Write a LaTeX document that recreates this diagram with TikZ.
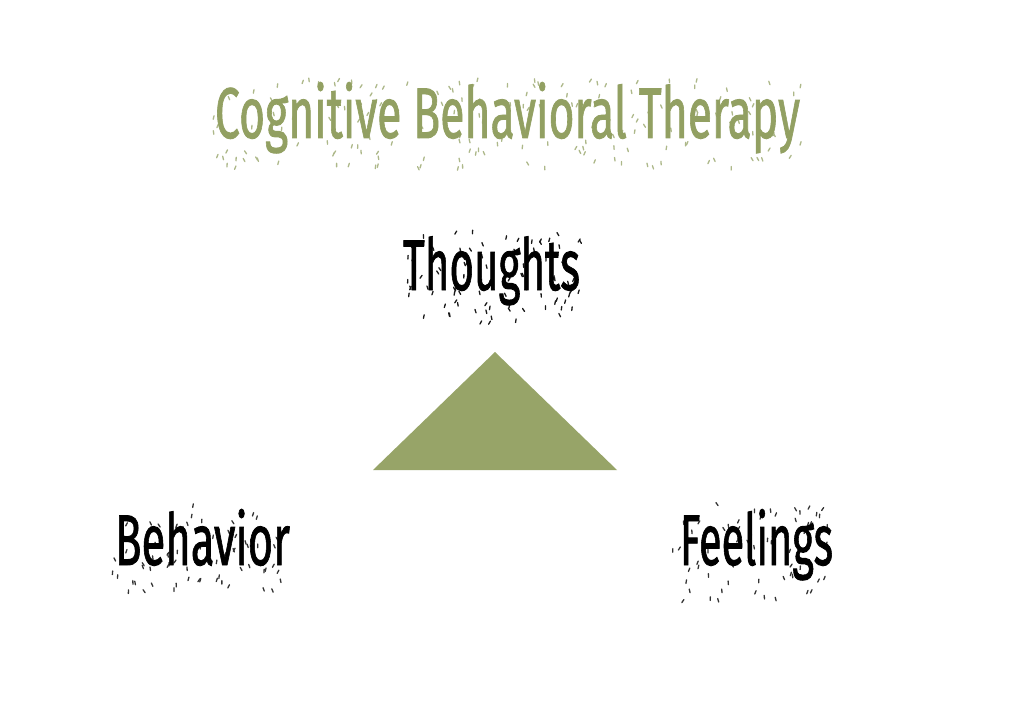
\documentclass[tikz,border=0pt]{standalone}
\usepackage{fontspec}
\setmainfont{Fira Sans}
\newfontfamily\handfont[FakeBold=1.3]{Fira Sans}
\definecolor{cbtgreen}{RGB}{151,164,104}
\definecolor{titlegreen}{RGB}{146,160,98}
\newcommand\cbtspeck[6]{% x0 x1 y0 y1 count colour
  \foreach \i in {1,...,#5}{%
    \pgfmathsetmacro\px{#1+(#2-#1)*rnd}%
    \pgfmathsetmacro\py{#3+(#4-#3)*rnd}%
    \pgfmathsetmacro\pa{55+70*rnd}%
    \draw[speck,#6] (\px,\py) -- ++(\pa:3.6);
  }}
\begin{document}
\begin{tikzpicture}[x=1bp,y=-1bp,
  lbl/.style={anchor=base, inner sep=0pt, font=\handfont\fontsize{72}{72}\selectfont},
  speck/.style={line width=1.3bp, line cap=round}]
\useasboundingbox (0,0) rectangle (1024,715);
\fill[white] (0,0) rectangle (1024,715);
\pgfmathsetseed{23}
% speckle textures
\cbtspeck{212}{805}{78}{168}{190}{titlegreen!75}
\cbtspeck{398}{588}{230}{322}{95}{black!90}
\cbtspeck{110}{292}{502}{590}{75}{black!80}
\cbtspeck{672}{838}{502}{600}{70}{black!80}
% titles and labels
\node[lbl, text=titlegreen] (title) at (507.5,138) {\resizebox{585bp}{\height}{Cognitive Behavioral Therapy}};
\node[lbl] (thoughts) at (491.5,290) {\resizebox{177bp}{\height}{Thoughts}};
\node[lbl] (behavior) at (202.5,565) {\resizebox{175bp}{\height}{Behavior}};
\node[lbl] (feelings) at (756.5,565) {\resizebox{153bp}{\height}{Feelings}};
% triangle
\coordinate (apex) at (495,352);
\coordinate (bl) at (373,470);
\coordinate (br) at (617,470);
\fill[cbtgreen] (apex) -- (br) -- (bl) -- cycle;
\end{tikzpicture}
\end{document}
